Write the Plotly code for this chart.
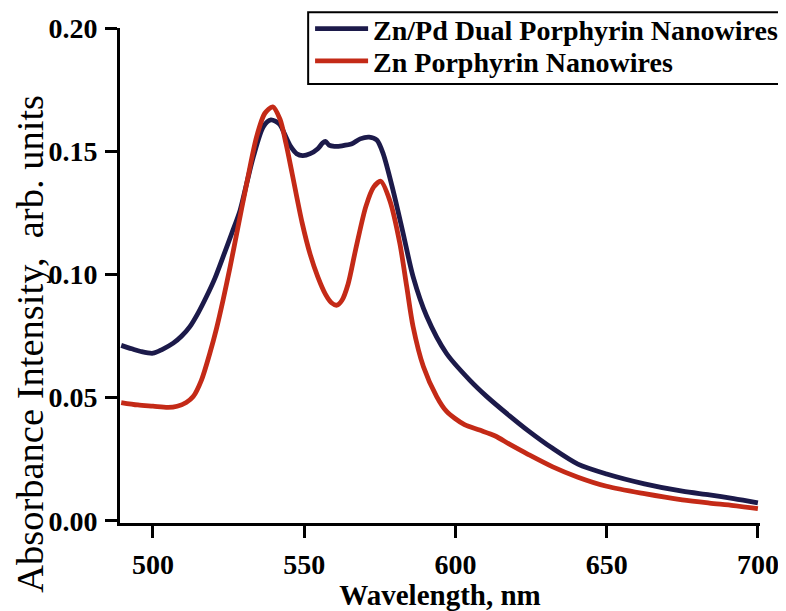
import plotly.graph_objects as go

# Zn/Pd dual porphyrin nanowires
wl_znpd = [489.5, 493, 496, 500, 503, 506.7, 509.5, 512.2, 515, 517.7, 520.5, 523.2, 526, 528.8, 531,
           533.2, 536.5, 539, 541.8, 543.5, 545.5, 547.5, 549.5, 552, 554.5, 556, 557, 558.2, 560,
           562.5, 565.8, 568.5, 571.5, 574, 576.1, 579.4, 582.7, 586, 590.5, 597, 604.8, 610.3, 618,
           624, 632, 640.5, 650, 662.5, 675, 684, 692, 700]
abs_znpd = [0.0712, 0.0698, 0.0687, 0.068, 0.0695, 0.0721, 0.075, 0.0788, 0.0845, 0.091, 0.0985,
            0.1072, 0.1165, 0.126, 0.137, 0.1478, 0.160, 0.1627, 0.161, 0.157, 0.152, 0.149, 0.1482,
            0.149, 0.151, 0.1532, 0.154, 0.1525, 0.152, 0.1522, 0.153, 0.155, 0.1557, 0.1545, 0.149,
            0.134, 0.1167, 0.0991, 0.083, 0.068, 0.057, 0.0505, 0.0425, 0.0366, 0.0295, 0.023, 0.019,
            0.015, 0.012, 0.0105, 0.009, 0.0073]

# Zn porphyrin nanowires
wl_zn = [489.5, 495, 500, 505, 508, 511, 513.3, 516, 518.8, 521, 523.2, 525.5, 527.7, 531, 534.3, 537,
         539.6, 542, 544, 546, 549.3, 552, 554.5, 557, 559, 560.8, 562.5, 564.5, 567, 570.4, 573,
         575.3, 578.3, 581.6, 583.9, 586, 589.4, 593.8, 597, 603, 608, 613, 618, 624, 632, 640.5, 650,
         662.5, 675, 684, 692, 700]
abs_zn = [0.048, 0.047, 0.0465, 0.046, 0.0465, 0.048, 0.0504, 0.057, 0.068, 0.078, 0.0897, 0.103,
          0.1167, 0.137, 0.156, 0.1654, 0.168, 0.163, 0.153, 0.141, 0.121, 0.108, 0.099, 0.092, 0.0885,
          0.0875, 0.0895, 0.096, 0.110, 0.1276, 0.1355, 0.1378, 0.130, 0.1127, 0.095, 0.0788, 0.0626,
          0.0504, 0.0445, 0.039, 0.0368, 0.0345, 0.031, 0.027, 0.022, 0.0177, 0.014, 0.011, 0.0085,
          0.0072, 0.0062, 0.0049]

x_ticks = [500, 550, 600, 650, 700]
y_ticks = [0.00, 0.05, 0.10, 0.15, 0.20]
y_tick_labels = ["0.00", "0.05", "0.10", "0.15", "0.20"]

serif = "Liberation Serif, Times New Roman, serif"

fig = go.Figure()
fig.add_trace(go.Scatter(x=wl_znpd, y=abs_znpd, mode="lines", name="Zn/Pd Dual Porphyrin Nanowires",
                         legend="legend",
                         line=dict(color="#1c1a4a", width=4.8, shape="spline", smoothing=0.8)))
fig.add_trace(go.Scatter(x=wl_zn, y=abs_zn, mode="lines", name="Zn Porphyrin Nanowires",
                         legend="legend2",
                         line=dict(color="#c42a17", width=4.8, shape="spline", smoothing=0.8)))

leg_common = dict(xanchor="left", yanchor="middle", borderwidth=0, bgcolor="rgba(0,0,0,0)",
                  font=dict(family=serif, size=28, color="black", weight="bold"),
                  itemwidth=53)

fig.update_layout(
    width=778, height=603,
    paper_bgcolor="white", plot_bgcolor="white",
    margin=dict(l=112, r=26, t=20, b=88, autoexpand=False),
    showlegend=True,
    legend=dict(x=0.297, y=0.998, **leg_common),
    legend2=dict(x=0.297, y=0.933, **leg_common),
    shapes=[dict(type="rect", xref="paper", yref="paper", x0=0.294, x1=1.0375, y0=0.887, y1=1.032,
                 line=dict(color="black", width=2), fillcolor="rgba(0,0,0,0)", layer="above")],
    annotations=[dict(text="Absorbance Intensity,  arb. units", xref="paper", yref="paper",
                      x=-0.1406, y=0.362, textangle=-90, showarrow=False,
                      xanchor="center", yanchor="middle",
                      font=dict(family=serif, size=38.5, color="black"))],
    xaxis=dict(range=[489.1, 700.7], tickvals=x_ticks, ticks="outside", ticklen=12, tickwidth=3,
               tickcolor="black", showline=True, linecolor="black", linewidth=3, showgrid=False,
               zeroline=False, automargin=False, ticklabelstandoff=2,
               tickfont=dict(family=serif, size=28, color="black", weight="bold"),
               title=dict(text="<b>Wavelength, nm</b>", font=dict(family=serif, size=29, color="black"),
                          standoff=2)),
    yaxis=dict(range=[-0.0009, 0.2], tickvals=y_ticks, ticktext=y_tick_labels, ticks="outside",
               ticklen=12, tickwidth=3, tickcolor="black", showline=True, linecolor="black",
               linewidth=3, showgrid=False, zeroline=False, automargin=False, ticklabelstandoff=2,
               tickfont=dict(family=serif, size=28, color="black", weight="bold")),
)

fig.write_html("out.html")
